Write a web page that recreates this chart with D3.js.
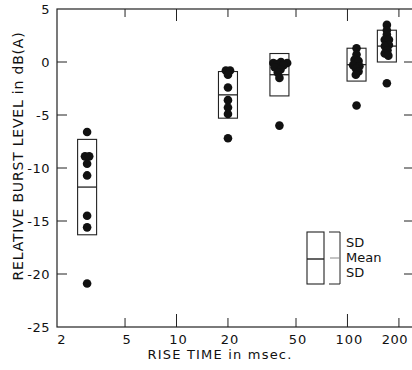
<!DOCTYPE html>
<html>
<head>
<meta charset="utf-8">
<script src="https://cdn.jsdelivr.net/npm/d3@7"></script>
<style>
  body { margin: 0; background: #fff; }
  svg text { font-family: "DejaVu Sans", sans-serif; fill: #111; }
</style>
</head>
<body>
<svg id="chart" width="412" height="370"></svg>
<script>
// rise times (ms) of the five conditions
const riseTimes = [3, 20, 40, 113, 170];

// individual burst levels, dB(A), one list per rise time
const levels = [
    [-6.6, -8.9, -8.9, -9.6, -10.7, -14.5, -15.6, -20.9],
    [-0.8, -0.8, -1.2, -2.4, -3.6, -4.3, -4.9, -7.2],
    [-0.1, -0.1, 0.0, -0.2, -0.3, -0.5, -0.7, -1.0, -1.5, -6.0],
    [1.3, 0.7, 0.2, 0.1, -0.3, -0.4, -0.6, -0.9, -1.2, -4.1],
    [3.5, 3.0, 2.6, 2.1, 2.1, 1.6, 1.5, 1.1, 0.8, 0.6, -2.0]
];

const means = [-11.8, -3.1, -1.2, -0.25, 1.5];
const sds = [4.5, 2.2, 2.0, 1.55, 1.5];

const xTicks = [2, 5, 10, 20, 50, 100, 200];
const yTicks = [5, 0, -5, -10, -15, -20, -25];

const svg = d3.select("#chart");
const margin = {left: 57, top: 9, right: -2, bottom: 43};
const width = 412 - margin.left - margin.right;
const height = 370 - margin.top - margin.bottom;

const x = d3.scaleLog().domain([2, 245]).range([0, width]);
const y = d3.scaleLinear().domain([-25, 5]).range([height, 0]);

const g = svg.append("g")
    .attr("transform", `translate(${margin.left},${margin.top})`);

// frame
g.append("rect")
    .attr("width", width)
    .attr("height", height)
    .attr("fill", "none")
    .attr("stroke", "#222")
    .attr("stroke-width", 1.2);

// ticks drawn inward on all sides
const tickLen = v => (Math.log10(v) % 1 === 0) ? 13 : 9;
xTicks.slice(1).forEach(v => {
    g.append("line")
        .attr("x1", x(v)).attr("x2", x(v))
        .attr("y1", height).attr("y2", height - tickLen(v))
        .attr("stroke", "#222");
    g.append("line")
        .attr("x1", x(v)).attr("x2", x(v))
        .attr("y1", 0).attr("y2", tickLen(v) - 1)
        .attr("stroke", "#222");
});
yTicks.slice(1, -1).forEach(v => {
    g.append("line")
        .attr("x1", 0).attr("x2", 10)
        .attr("y1", y(v)).attr("y2", y(v))
        .attr("stroke", "#222");
    g.append("line")
        .attr("x1", width).attr("x2", width - 10)
        .attr("y1", y(v)).attr("y2", y(v))
        .attr("stroke", "#222");
});

// tick labels (first and last nudged off the edges)
const last = xTicks.length - 1;
g.selectAll(".xlab")
    .data(xTicks)
    .enter().append("text")
    .attr("x", (d, i) => x(d) + (i === 0 ? 5 : i === last ? -4 : 2))
    .attr("y", height + 17)
    .attr("text-anchor", "middle")
    .attr("font-size", "13px")
    .attr("letter-spacing", (d, i) => i === last ? "0.5px" : "1px")
    .text(d => d);

g.selectAll(".ylab")
    .data(yTicks)
    .enter().append("text")
    .attr("x", -7)
    .attr("y", d => y(d))
    .attr("dy", "0.35em")
    .attr("text-anchor", "end")
    .attr("font-size", "13px")
    .attr("letter-spacing", "0.5px")
    .text(d => d);

// axis titles
svg.append("text")
    .attr("x", 220)
    .attr("y", 359)
    .attr("text-anchor", "middle")
    .attr("font-size", "13px")
    .attr("letter-spacing", "1.2px")
    .text("RISE TIME in msec.");

svg.append("text")
    .attr("transform", `translate(23,${156}) rotate(-90)`)
    .attr("text-anchor", "middle")
    .attr("font-size", "14px")
    .attr("letter-spacing", "0.8px")
    .text("RELATIVE BURST LEVEL in dB(A)");

// mean +/- SD boxes
const boxW = 19;
riseTimes.forEach((t, i) => {
    const cx = x(t);
    g.append("rect")
        .attr("x", cx - boxW / 2)
        .attr("y", y(means[i] + sds[i]))
        .attr("width", boxW)
        .attr("height", y(means[i] - sds[i]) - y(means[i] + sds[i]))
        .attr("fill", "none")
        .attr("stroke", "#222")
        .attr("stroke-width", 1.1);
    g.append("line")
        .attr("x1", cx - boxW / 2).attr("x2", cx + boxW / 2)
        .attr("y1", y(means[i])).attr("y2", y(means[i]))
        .attr("stroke", "#222")
        .attr("stroke-width", 1.3);
});

// dots, nudged sideways where they collide
const r = 4.3;
riseTimes.forEach((t, i) => {
    const nodes = levels[i].map(v => ({x: x(t), fy: y(v), v}));
    const sim = d3.forceSimulation(nodes)
        .force("x", d3.forceX(x(t)).strength(0.2))
        .force("collide", d3.forceCollide(2.1))
        .stop();
    for (let k = 0; k < 200; k++) sim.tick();
    g.selectAll(null)
        .data(nodes)
        .enter().append("circle")
        .attr("cx", d => d.x)
        .attr("cy", d => d.fy)
        .attr("r", r)
        .attr("fill", "#111");
});

// legend
const lg = svg.append("g").attr("transform", "translate(307,232)");
lg.append("rect")
    .attr("width", 17).attr("height", 52)
    .attr("fill", "none").attr("stroke", "#222").attr("stroke-width", 1.1);
lg.append("line")
    .attr("x1", 0).attr("x2", 17).attr("y1", 27).attr("y2", 27)
    .attr("stroke", "#222").attr("stroke-width", 1.4);
lg.append("path")
    .attr("d", "M22,0H33V52H22")
    .attr("fill", "none").attr("stroke", "#222");
lg.append("line")
    .attr("x1", 23).attr("x2", 33).attr("y1", 26).attr("y2", 26)
    .attr("stroke", "#888");
const legendLabels = ["SD", "Mean", "SD"];
lg.selectAll(".leg")
    .data(legendLabels)
    .enter().append("text")
    .attr("x", 39)
    .attr("y", (d, i) => 10 + i * 15)
    .attr("dy", "0.35em")
    .attr("font-size", "13px")
    .text(d => d);
</script>
</body>
</html>
